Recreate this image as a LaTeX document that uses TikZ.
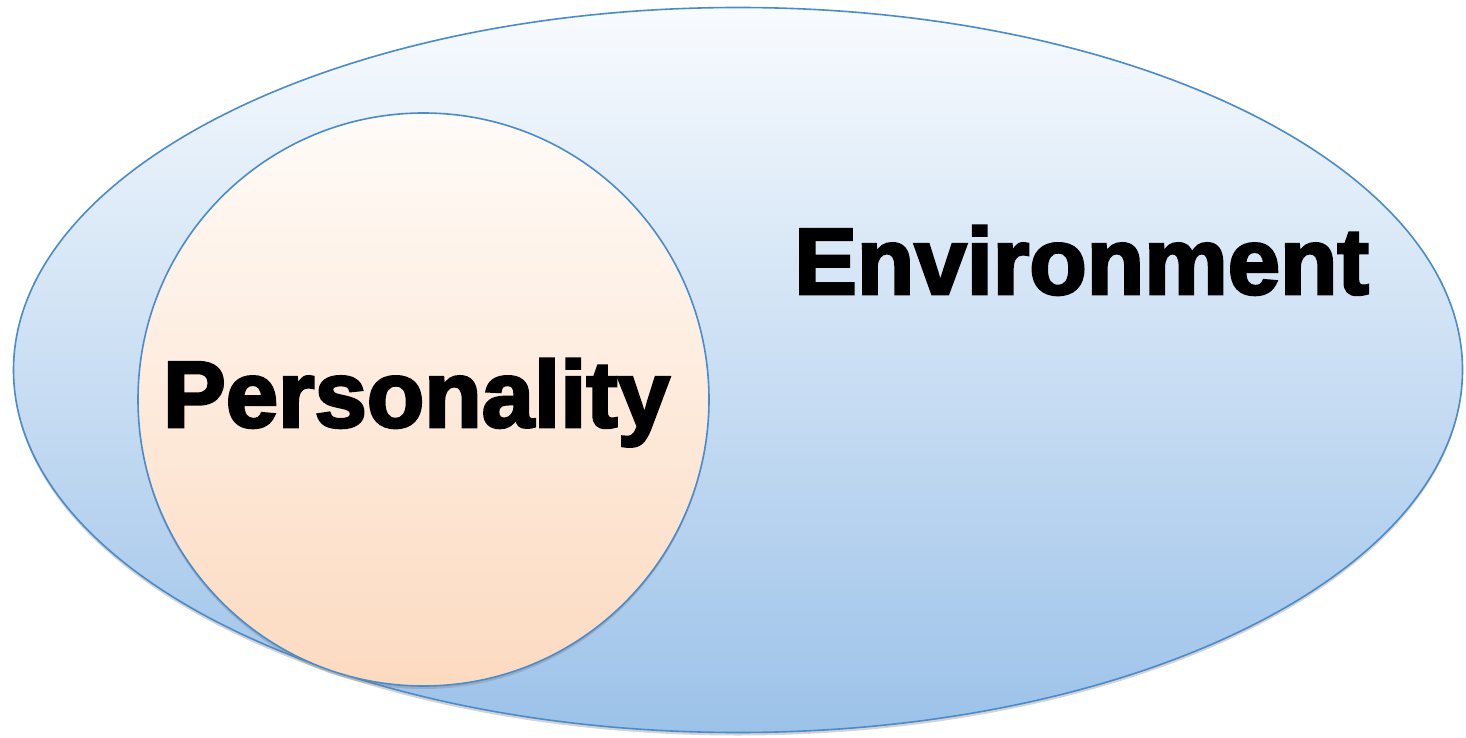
\documentclass[tikz,border=0pt]{standalone}
\usepackage{fontspec}
\setmainfont{Liberation Sans}[BoldFeatures={FakeBold=3}]
\usetikzlibrary{shapes.geometric,shadows}
\definecolor{envtop}{HTML}{F8FBFE}
\definecolor{envbot}{HTML}{9CC2E9}
\definecolor{pertop}{HTML}{FFFBF8}
\definecolor{perbot}{HTML}{FCDAC0}
\definecolor{edge}{HTML}{4A8BCB}
\tikzset{
  blob/.style={ellipse, draw=edge, line width=1.6pt, inner sep=0pt,
    drop shadow={opacity=0.35, shadow xshift=0pt, shadow yshift=-3pt}},
  bigtext/.style={font=\fontsize{94}{100}\selectfont\bfseries, text=black, anchor=base, inner sep=0pt}
}
\begin{document}
\begin{tikzpicture}[x=1pt,y=1pt]
\useasboundingbox (0,0) rectangle (1466,737);
\node[blob, minimum width=1449pt, minimum height=725pt, top color=envtop, bottom color=envbot] (env) at (738,367) {};
\node[blob, minimum width=571pt, minimum height=573pt, top color=pertop, bottom color=perbot] (per) at (423.5,337.5) {};
\node[bigtext] (pertext) at (416.5,310) {Personality};
\node[bigtext] (envtext) at (1081.5,443) {Environment};
\end{tikzpicture}
\end{document}
